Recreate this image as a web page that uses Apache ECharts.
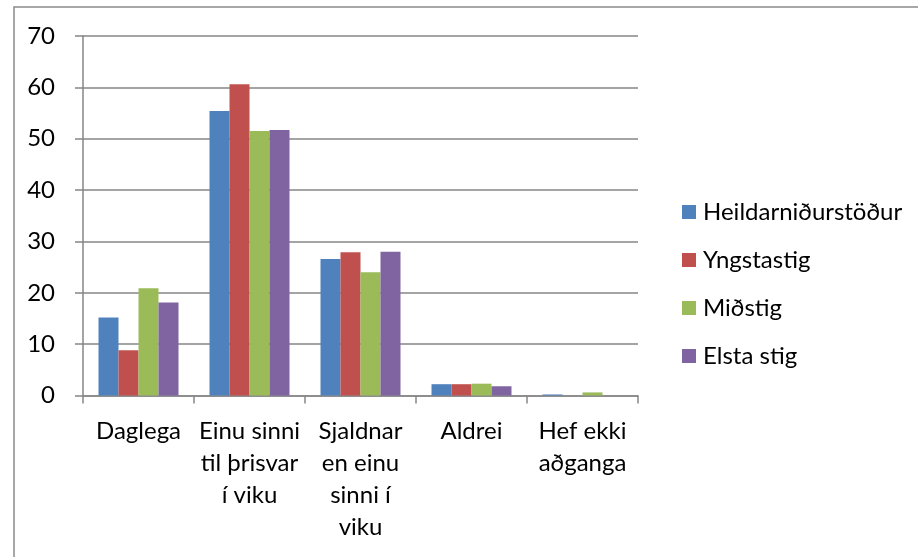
<!DOCTYPE html>
<html>
<head>
<meta charset="utf-8">
<script src="https://cdn.jsdelivr.net/npm/echarts@6/dist/echarts.min.js"></script>
<style>html,body{margin:0;padding:0;background:#fff;}#c{width:918px;height:557px;}</style>
</head>
<body>
<div id="c"></div>
<script>
const categories = ['Daglega', 'Einu sinni\ntil þrisvar\ní viku', 'Sjaldnar\nen einu\nsinni í\nviku', 'Aldrei', 'Hef ekki\naðganga'];
const seriesNames = ['Heildarniðurstöður', 'Yngstastig', 'Miðstig', 'Elsta stig'];
const heildar = [15.2, 55.4, 26.6, 2.2, 0.2];
const yngsta = [8.8, 60.6, 27.9, 2.2, 0];
const midstig = [20.9, 51.5, 24.0, 2.3, 0.6];
const elsta = [18.1, 51.7, 28.0, 1.8, 0];
const yTicks = [0, 10, 20, 30, 40, 50, 60, 70];

const colors = ['#4F81BD', '#C0504D', '#9BBB59', '#8064A2'];
const dataSets = [heildar, yngsta, midstig, elsta];
const FONT = 'Lato';
const FS = 24;

const chart = echarts.init(document.getElementById('c'), null, {renderer: 'canvas'});
chart.setOption({
  animation: false,
  backgroundColor: '#fff',
  color: colors,
  textStyle: {fontFamily: FONT},
  graphic: [{
    type: 'rect', silent: true, z: -1,
    shape: {x: 14, y: 7, width: 1200, height: 1200},
    style: {fill: 'none', stroke: '#8a8a8a', lineWidth: 1.5}
  }],
  grid: {left: 83, top: 36, right: 280, bottom: 161.5, containLabel: false},
  legend: {
    orient: 'vertical', left: 682, top: 200, padding: 0,
    itemWidth: 14, itemHeight: 14, itemGap: 24,
    icon: 'rect',
    data: seriesNames,
    textStyle: {fontFamily: FONT, fontSize: FS, color: '#000', lineHeight: 24, padding: [0, 0, 0, 2]}
  },
  xAxis: {
    type: 'category',
    data: categories,
    boundaryGap: true,
    axisLine: {lineStyle: {color: '#868686', width: 1.5}},
    axisTick: {show: true, length: 8, lineStyle: {color: '#868686', width: 1.5}, alignWithLabel: false},
    axisLabel: {color: '#000', fontFamily: FONT, fontSize: FS, lineHeight: 32, margin: 20, interval: 0}
  },
  yAxis: {
    type: 'value', min: yTicks[0], max: yTicks[yTicks.length - 1], interval: 10,
    axisLine: {show: true, lineStyle: {color: '#868686', width: 1.5}},
    axisTick: {show: true, length: 8, lineStyle: {color: '#868686', width: 1.5}},
    splitLine: {lineStyle: {color: '#868686', width: 1.5}},
    axisLabel: {color: '#000', fontFamily: FONT, fontSize: FS, margin: 28}
  },
  series: seriesNames.map((n, i) => ({
    name: n, type: 'bar', data: dataSets[i],
    barWidth: 20, barGap: '0%',
    itemStyle: {color: colors[i]}
  }))
});
</script>
</body>
</html>
